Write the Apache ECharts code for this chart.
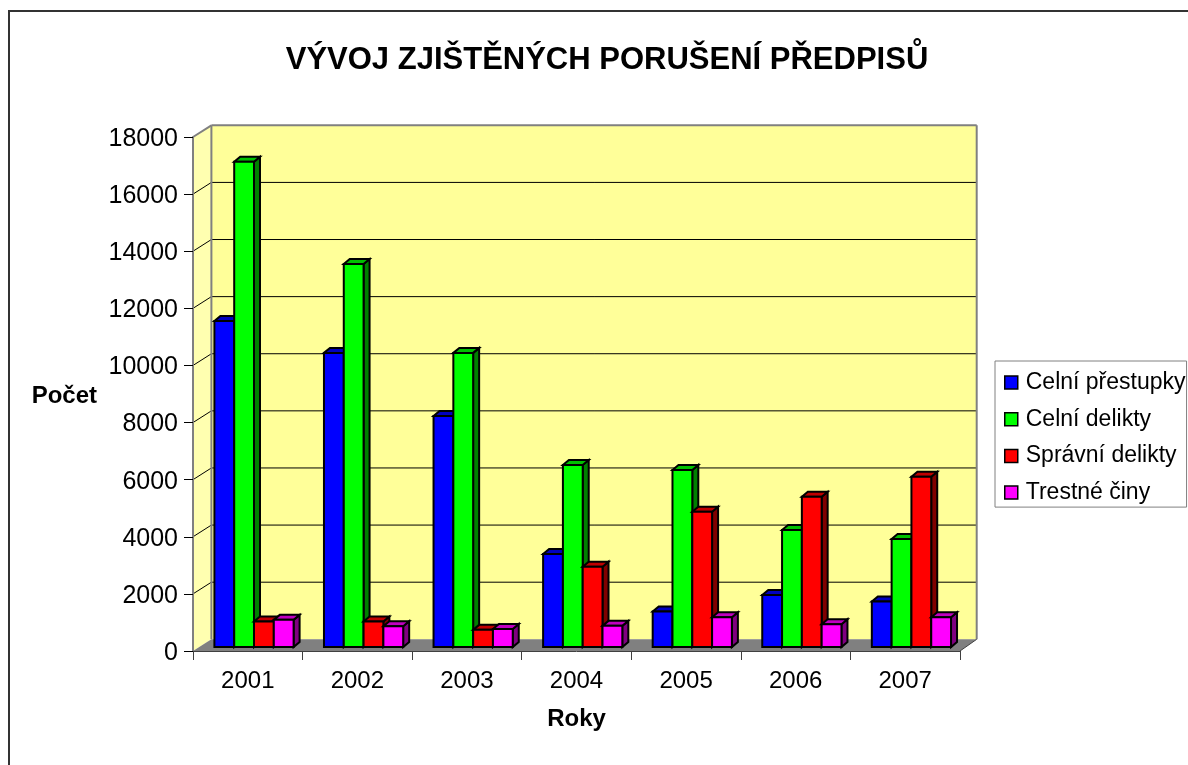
<!DOCTYPE html>
<html>
<head>
<meta charset="utf-8">
<style>html,body{margin:0;padding:0;background:#fff}#c{width:1188px;height:765px}</style>
<script src="https://cdn.jsdelivr.net/npm/echarts@6/dist/echarts.min.js"></script>
</head>
<body>
<div id="c"></div>
<script>
const years = ['2001','2002','2003','2004','2005','2006','2007'];
const yTicks = [0,2000,4000,6000,8000,10000,12000,14000,16000,18000];
const celniPrestupky = [11420,10300,8090,3260,1240,1820,1590];
const celniDelikty   = [16990,13410,10300,6370,6200,4100,3780];
const spravniDelikty = [890,890,600,2810,4740,5260,5960];
const trestneCiny    = [950,730,630,740,1040,800,1040];

const FONT = '"Liberation Sans", Arial, sans-serif';
const palette = [
  {name:'Celní přestupky', values:celniPrestupky, front:'#0000FF', top:'#0000C0', side:'#000080'},
  {name:'Celní delikty',   values:celniDelikty,   front:'#00FF00', top:'#00C000', side:'#008000'},
  {name:'Správní delikty', values:spravniDelikty, front:'#FF0000', top:'#C00000', side:'#800000'},
  {name:'Trestné činy',    values:trestneCiny,    front:'#FF00FF', top:'#C000C0', side:'#800080'}
];
const WALL_DX = 18.4, WALL_DY = 11.7, WALL_RIGHT_DX = 16.7;
const BAR_W = 19.8, GROUP_OFF = 21.4, BAR_DX = 6, BAR_DY = 5, PLANE_DY = 4;
const WALL_GRAY = '#808080';

function poly(pts, fill, stroke, lw, extra){
  return Object.assign({type:'polygon', shape:{points:pts}, style:{fill:fill, stroke:stroke, lineWidth:lw, lineJoin:'miter'}}, extra||{});
}
function line(x1,y1,x2,y2,stroke,lw){
  return {type:'line', shape:{x1:x1,y1:y1,x2:x2,y2:y2}, style:{stroke:stroke, lineWidth:lw, fill:null}};
}
function renderWalls(params, api){
  const c = params.coordSys;
  const xl=c.x, xr=c.x+c.width, yt=c.y, yb=c.y+c.height;
  const bl=xl+WALL_DX, br=xr+WALL_RIGHT_DX, bt=yt-WALL_DY, bb=yb-WALL_DY;
  return {type:'group', children:[
    poly([[bl,bt],[br,bt],[br,bb],[bl,bb]], '#FFFF99', null, 0),
    poly([[xl,yt],[bl,bt],[bl,bb],[xl,yb]], '#FFFFB0', null, 0),
    poly([[xl,yb],[xr,yb],[br,bb],[bl,bb]], WALL_GRAY, null, 0)
  ]};
}
function renderGrid(params, api){
  const c = params.coordSys;
  const p = api.coord([0, api.value(0)]);
  const xl=c.x, xr=c.x+c.width, y=p[1];
  const bl=xl+WALL_DX, br=xr+WALL_RIGHT_DX;
  if (api.value(0) === 0) return {type:'group', children:[]};
  const top = api.value(0) === yTicks[yTicks.length-1];
  return {type:'group', children:[
    line(xl,y,bl,y-WALL_DY, top?WALL_GRAY:'#000', top?2:1),
    line(bl,y-WALL_DY,br,y-WALL_DY, top?WALL_GRAY:'#000', top?2:1)
  ]};
}
function renderFrame(params, api){
  const c = params.coordSys;
  const xl=c.x, xr=c.x+c.width, yt=c.y, yb=c.y+c.height;
  const bl=xl+WALL_DX, br=xr+WALL_RIGHT_DX, bt=yt-WALL_DY, bb=yb-WALL_DY;
  return {type:'group', children:[
    line(bl,bt,bl,bb,WALL_GRAY,2),
    line(br,bt,br,bb,WALL_GRAY,2),
    line(xr,yb,br,bb,'#404040',1)
  ]};
}
function makeBarRender(si){
  const st = palette[si];
  return function(params, api){
    const cat = api.value(0), val = api.value(1);
    const band = api.size([1,0])[0];
    const mid = api.coord([cat,0]);
    const x0 = mid[0]-band/2+GROUP_OFF+si*BAR_W;
    const x1 = x0+BAR_W;
    const yBase = mid[1]-PLANE_DY;
    const yTop = api.coord([cat,val])[1]-PLANE_DY;
    const s = 2;
    return {type:'group', children:[
      poly([[x1,yTop],[x1+BAR_DX,yTop-BAR_DY],[x1+BAR_DX,yBase-BAR_DY],[x1,yBase]], st.side,'#000',s),
      poly([[x0,yTop],[x0+BAR_DX,yTop-BAR_DY],[x1+BAR_DX,yTop-BAR_DY],[x1,yTop]], st.top,'#000',s),
      poly([[x0,yTop],[x1,yTop],[x1,yBase],[x0,yBase]], st.front,'#000',s)
    ]};
  };
}
const barSeries = palette.map((p,si)=>({
  type:'custom', name:p.name, coordinateSystem:'cartesian2d', clip:false, z:4, silent:true,
  itemStyle:{color:p.front},
  renderItem:makeBarRender(si),
  encode:{x:0,y:1},
  data:p.values.map((v,i)=>[i,v])
}));
const chart = echarts.init(document.getElementById('c'), null, {renderer:'canvas', width:1188, height:765});
chart.setOption({
  animation:false,
  backgroundColor:'#fff',
  textStyle:{fontFamily:FONT},
  title:{text:'VÝVOJ ZJIŠTĚNÝCH PORUŠENÍ PŘEDPISŮ', left:602, top:40, textAlign:'center',
    textStyle:{fontFamily:FONT, fontSize:31, fontWeight:'bold', color:'#000'}},
  graphic:[{type:'polyline', z:0, silent:true, shape:{points:[[9,765],[9,11],[1188,11]]}, style:{stroke:'#333', lineWidth:2, fill:null}}],
  grid:{left:193, top:137, width:767, height:514, containLabel:false, outerBoundsMode:'none'},
  legend:{
    orient:'vertical', left:995, top:361, width:192, itemWidth:13, itemHeight:13, itemGap:13.7,
    padding:[10,1,3,9], selectedMode:false, borderColor:'#808080', borderWidth:1, backgroundColor:'#fff',
    textStyle:{fontFamily:FONT, fontSize:23, color:'#000', padding:[0,0,0,3]},
    data:palette.map(p=>({name:p.name, icon:'rect', itemStyle:{color:p.front, borderColor:'#000', borderWidth:1.5}}))
  },
  xAxis:{type:'category', data:years, boundaryGap:true, z:6,
    axisLine:{show:true, lineStyle:{color:'#404040', width:1}},
    axisTick:{show:true, length:9, alignWithLabel:false, lineStyle:{color:'#404040', width:1}},
    axisLabel:{fontFamily:FONT, fontSize:24, color:'#000', margin:18},
    name:'Roky', nameLocation:'middle', nameGap:56,
    nameTextStyle:{fontFamily:FONT, fontSize:24, fontWeight:'bold', color:'#000'}},
  yAxis:{type:'value', min:0, max:18000, interval:2000, z:6,
    axisLine:{show:true, lineStyle:{color:WALL_GRAY, width:2}},
    axisTick:{show:true, length:9, lineStyle:{color:'#000', width:1}},
    axisLabel:{fontFamily:FONT, fontSize:25, color:'#000', margin:15,
      formatter:function(v){return '{v|'+v+'}';},
      rich:{v:{fontFamily:FONT, fontSize:25, color:'#000', padding:[4,0,0,0]}}},
    splitLine:{show:false},
    name:'{n|Počet}', nameLocation:'middle', nameRotate:0, nameGap:96,
    nameTextStyle:{fontFamily:FONT, fontSize:24, fontWeight:'bold', color:'#000',
      rich:{n:{fontFamily:FONT, fontSize:24, fontWeight:'bold', color:'#000', padding:[4,0,0,0]}}}},
  series:[
    {type:'custom', name:'walls', coordinateSystem:'cartesian2d', clip:false, z:1, silent:true, renderItem:renderWalls, data:[[0,0]]},
    {type:'custom', name:'grid', coordinateSystem:'cartesian2d', clip:false, z:2, silent:true, renderItem:renderGrid, encode:{y:0}, data:yTicks.map(v=>[v])},
    {type:'custom', name:'frame', coordinateSystem:'cartesian2d', clip:false, z:3, silent:true, renderItem:renderFrame, data:[[0,0]]}
  ].concat(barSeries)
});
</script>
</body>
</html>
